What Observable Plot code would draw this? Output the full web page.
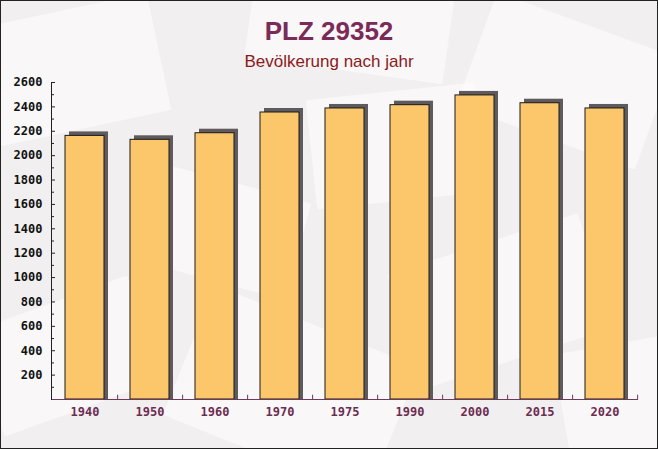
<!DOCTYPE html>
<html>
<head>
<meta charset="utf-8">
<script src="https://cdn.jsdelivr.net/npm/d3@7"></script>
<script src="https://cdn.jsdelivr.net/npm/@observablehq/plot@0.6"></script>
<style>
html, body { margin: 0; padding: 0; background: #fff; }
#frame { position: relative; width: 658px; height: 449px; box-sizing: border-box; border: 1px solid #222; background: #f2eff0; overflow: hidden; }
.env { position: absolute; background: rgba(255,255,255,0.5); border-radius: 2px; }
#title { position: absolute; left: 0; right: 0; top: 15px; text-align: center; font: bold 26px "Liberation Sans", sans-serif; color: #7a2b57; }
#subtitle { position: absolute; left: 0; right: 0; top: 51px; text-align: center; font: 17px "Liberation Sans", sans-serif; color: #8b1a1a; }
#chart { position: absolute; left: 0; top: 71px; }
</style>
</head>
<body>
<div id="frame">
  <div class="env" style="left:-30px;top:10px;width:190px;height:120px;transform:rotate(-12deg)"></div>
  <div class="env" style="left:250px;top:-40px;width:200px;height:110px;transform:rotate(8deg)"></div>
  <div class="env" style="left:470px;top:20px;width:190px;height:120px;transform:rotate(20deg)"></div>
  <div class="env" style="left:310px;top:90px;width:170px;height:110px;transform:rotate(-6deg)"></div>
  <div class="env" style="left:140px;top:180px;width:160px;height:100px;transform:rotate(15deg)"></div>
  <div class="env" style="left:400px;top:240px;width:200px;height:120px;transform:rotate(-18deg)"></div>
  <div class="env" style="left:-20px;top:300px;width:170px;height:110px;transform:rotate(-20deg)"></div>
  <div class="env" style="left:180px;top:320px;width:220px;height:140px;transform:rotate(22deg)"></div>
  <div class="env" style="left:560px;top:340px;width:150px;height:110px;transform:rotate(-10deg)"></div>
  <div id="title">PLZ 29352</div>
  <div id="subtitle">Bevölkerung nach jahr</div>
  <div id="chart"></div>
</div>
<script>
const years = ["1940", "1950", "1960", "1970", "1975", "1990", "2000", "2015", "2020"];
const population = [2162, 2130, 2184, 2354, 2387, 2414, 2494, 2430, 2387];
const majorTicks = [200, 400, 600, 800, 1000, 1200, 1400, 1600, 1800, 2000, 2200, 2400, 2600];
const minorTicks = [100, 300, 500, 700, 900, 1100, 1300, 1500, 1700, 1900, 2100, 2300, 2500];

const data = years.map((y, i) => ({year: y, value: population[i]}));

const W = 656, H = 377, ML = 50, MR = 19, MT = 10, MB = 50;
const halfStep = (W - ML - MR) / years.length / 2;

const chart = Plot.plot({
  width: W,
  height: H,
  marginLeft: ML,
  marginRight: MR,
  marginTop: MT,
  marginBottom: MB,
  style: {background: "transparent", overflow: "visible"},
  x: {domain: years, paddingInner: 0.4, paddingOuter: 0.2, label: null},
  y: {domain: [0, 2600], label: null},
  marks: [
    Plot.rectY(data, {x: "year", y: "value", fill: "#5f5a5d", dx: 4, dy: -4, insetBottom: -4}),
    Plot.rectY(data, {x: "year", y: "value", fill: "#fcc66b", stroke: "#1a1a1a", strokeWidth: 1}),
    Plot.ruleY([0], {stroke: "#6d3a5a", strokeWidth: 1.2}),
    Plot.frame({anchor: "left", stroke: "#222"}),
    Plot.axisY(majorTicks, {tickSize: 0, tickPadding: 9, tickFormat: d => String(d), fontSize: 12, fontWeight: "bold", fontFamily: "DejaVu Sans Mono", letterSpacing: "-0.5px", fill: "#111"}),
    Plot.axisY(majorTicks, {tickSize: 4, dx: 4, tickFormat: () => "", stroke: "#222"}),
    Plot.axisY(minorTicks, {tickSize: 3, dx: 3, tickFormat: () => "", stroke: "#222"}),
    Plot.axisX({tickSize: 0, tickPadding: 8, fontSize: 12, fontWeight: "bold", fontFamily: "DejaVu Sans Mono", letterSpacing: "-0.5px", fill: "#6b2d50"}),
    Plot.ruleX(years, {x: d => d, y1: 0, y2: 35, dx: halfStep, stroke: "#6d3a5a"})
  ]
});
document.getElementById("chart").appendChild(chart);
</script>
</body>
</html>
